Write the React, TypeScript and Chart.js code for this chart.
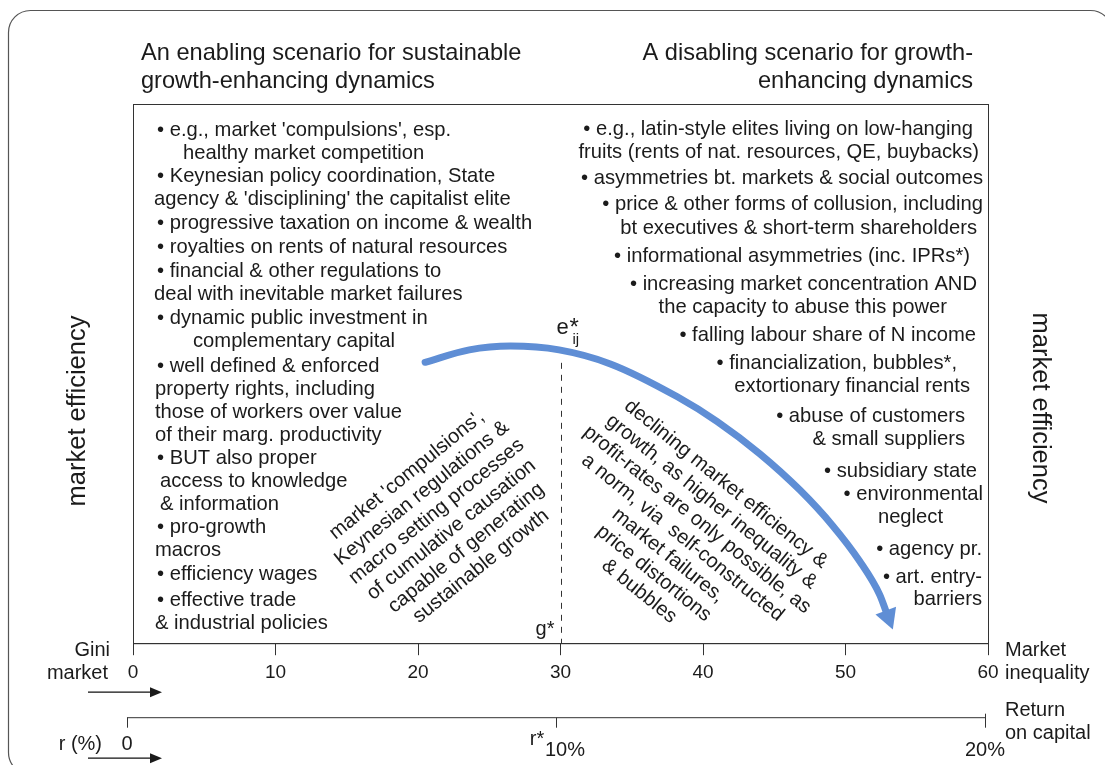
import React, { useEffect, useRef } from "react";
import { Chart, registerables } from "chart.js";

Chart.register(...registerables);

const FONT = '"Liberation Sans", Arial, Helvetica, sans-serif';
const INK = "#1b1b1b";
const CURVE = "#5f8ed5";

// ---- data ----
const giniTicks = [0, 10, 20, 30, 40, 50, 60];
const returnTicks = [0, 10, 20];
const returnTickLabels = ["0", "10%", "20%"];

const curveGini = [20.5, 23.6, 26.5, 29.9, 33.5, 38.2, 41.0, 44.0, 46.8, 49.1, 51.0, 52.4, 52.9];
const curveEfficiency = [52.1, 54.4, 55.1, 54.4, 51.8, 45.7, 41.1, 35.1, 28.4, 21.8, 15.2, 9.0, 5.5];

const gStar = 30;
const rStar = 10;
const eStarEfficiency = 52;

const titleLeft = ["An enabling scenario for sustainable", "growth-enhancing dynamics"];
const titleRight = ["A disabling scenario for growth-", "enhancing dynamics"];

const leftItems = [
  "\u2022 e.g., market 'compulsions', esp.",
  "healthy market competition",
  "\u2022 Keynesian policy coordination, State",
  "agency & 'disciplining' the capitalist elite",
  "\u2022 progressive taxation on income & wealth",
  "\u2022 royalties on rents of natural resources",
  "\u2022 financial & other regulations to",
  "deal with inevitable market failures",
  "\u2022 dynamic public investment in",
  "complementary capital",
  "\u2022 well defined & enforced",
  "property rights, including",
  "those of workers over value",
  "of their marg. productivity",
  "\u2022 BUT also proper",
  "access to knowledge",
  "& information",
  "\u2022 pro-growth",
  "macros",
  "\u2022 efficiency wages",
  "\u2022 effective trade",
  "& industrial policies",
];

const rightItems = [
  "\u2022 e.g., latin-style elites living on low-hanging",
  "fruits (rents of nat. resources, QE, buybacks)",
  "\u2022 asymmetries bt. markets & social outcomes",
  "\u2022 price & other forms of collusion, including",
  "bt executives & short-term shareholders",
  "\u2022 informational asymmetries (inc. IPRs*)",
  "\u2022 increasing market concentration AND",
  "the capacity to abuse this power",
  "\u2022 falling labour share of N income",
  "\u2022 financialization, bubbles*,",
  "extortionary financial rents",
  "\u2022 abuse of customers",
  "& small suppliers",
  "\u2022 subsidiary state",
  "\u2022 environmental",
  "neglect",
  "\u2022 agency pr.",
  "\u2022 art. entry-",
  "barriers",
];

const leftRotated = [
  "market 'compulsions',",
  "Keynesian regulations &",
  "macro setting processes",
  "of cumulative causation",
  "capable of generating",
  "sustainable growth",
];

const rightRotated = [
  "declining market efficiency &",
  "growth, as higher inequality &",
  "profit-rates are only possible, as",
  "a norm, via  self-constructed",
  "market failures,",
  "price distortions",
  "& bubbles",
];

// ---- layout (offsets relative to the chart area) ----
const leftItemLayout: [number, number][] = [
  [24, 32], [50, 55], [24, 78], [21, 101], [24, 125], [24, 149], [24, 173], [21, 196],
  [24, 220], [60, 243], [24, 268], [22, 291], [22, 314], [22, 337], [24, 360], [27, 383],
  [27, 406], [24, 429], [22, 452], [24, 476], [24, 502], [22, 525],
];
const rightItemLayout: [number, number][] = [
  [-15, 31], [-9, 54], [-5, 80], [-5, 106], [-11, 130], [-18, 158], [-11, 186], [-41, 209],
  [-12, 237], [-31, 265], [-18, 288], [-23, 318], [-23, 341], [-11, 373], [-5, 396],
  [-45, 419], [-6, 451], [-6, 479], [-6, 501],
];

const annotationPlugin = {
  id: "annotations",
  beforeDatasetsDraw(chart: any) {
    const { ctx, chartArea: ca, scales } = chart;
    const x = scales.x;
    const y = scales.y;
    const r = scales.ret;
    ctx.save();

    // outer rounded frame
    ctx.strokeStyle = "#555";
    ctx.lineWidth = 1.2;
    ctx.beginPath();
    ctx.roundRect(8.5, 10.5, 1104, 764, 22);
    ctx.stroke();

    // plot box
    ctx.strokeStyle = "#333";
    ctx.lineWidth = 1;
    ctx.strokeRect(ca.left + 0.5, ca.top + 0.5, ca.right - ca.left, ca.bottom - ca.top);

    ctx.fillStyle = INK;
    // titles
    ctx.font = `23.6px ${FONT}`;
    ctx.textBaseline = "alphabetic";
    ctx.textAlign = "left";
    titleLeft.forEach((t, i) => ctx.fillText(t, ca.left + 8, ca.top - 44 + i * 28));
    ctx.textAlign = "right";
    titleRight.forEach((t, i) => ctx.fillText(t, ca.right - 15, ca.top - 44 + i * 28));

    // bullet lists
    ctx.font = `20.2px ${FONT}`;
    ctx.textAlign = "left";
    leftItems.forEach((t, i) => {
      const [dx, dy] = leftItemLayout[i];
      ctx.fillText(t, ca.left + dx, ca.top + dy);
    });
    ctx.textAlign = "right";
    rightItems.forEach((t, i) => {
      const [dx, dy] = rightItemLayout[i];
      ctx.fillText(t, ca.right + dx, ca.top + dy);
    });

    // rotated blocks
    const ang = (39 * Math.PI) / 180;
    ctx.font = `20.2px ${FONT}`;
    ctx.textAlign = "center";
    ctx.textBaseline = "middle";
    ctx.save();
    ctx.translate(ca.left + 274, ca.top + 371);
    ctx.rotate(-ang);
    leftRotated.forEach((t, i) => ctx.fillText(t, 0, i * 23.5));
    ctx.restore();
    ctx.save();
    ctx.translate(ca.left + 593, ca.top + 380);
    ctx.rotate(ang);
    rightRotated.forEach((t, i) => ctx.fillText(t, 0, i * 23));
    ctx.restore();

    // vertical axis titles
    ctx.textBaseline = "alphabetic";
    ctx.font = `25.5px ${FONT}`;
    ctx.save();
    ctx.translate(85, 411);
    ctx.rotate(-Math.PI / 2);
    ctx.fillText("market efficiency", 0, 0);
    ctx.restore();
    ctx.save();
    ctx.translate(1033, 408);
    ctx.rotate(Math.PI / 2);
    ctx.fillText("market efficiency", 0, 0);
    ctx.restore();

    // g* dashed line
    const gx = Math.round(x.getPixelForValue(gStar)) + 0.5;
    ctx.strokeStyle = "#333";
    ctx.lineWidth = 1;
    ctx.setLineDash([6, 6]);
    ctx.beginPath();
    ctx.moveTo(gx, y.getPixelForValue(eStarEfficiency));
    ctx.lineTo(gx, ca.bottom);
    ctx.stroke();
    ctx.setLineDash([]);

    // e*_ij label
    const ey = y.getPixelForValue(eStarEfficiency);
    ctx.textAlign = "left";
    ctx.font = `22px ${FONT}`;
    ctx.fillText("e", gx - 5, ey - 29);
    ctx.font = `24px ${FONT}`;
    ctx.fillText("*", gx + 8, ey - 28);
    ctx.font = `15px ${FONT}`;
    ctx.fillText("ij", gx + 11, ey - 19);

    // g* label
    ctx.font = `20px ${FONT}`;
    ctx.textAlign = "right";
    ctx.fillText("g*", gx - 7, ca.bottom - 8);

    // Gini axis side labels
    ctx.fillText("Gini", 110, ca.bottom + 13);
    ctx.fillText("market", 108, ca.bottom + 36);
    ctx.textAlign = "left";
    ctx.fillText("Market", ca.right + 17, ca.bottom + 13);
    ctx.fillText("inequality", ca.right + 17, ca.bottom + 36);

    // small arrows
    const drawArrow = (yy: number) => {
      ctx.strokeStyle = "#111";
      ctx.lineWidth = 1.3;
      ctx.beginPath();
      ctx.moveTo(88, yy);
      ctx.lineTo(152, yy);
      ctx.stroke();
      ctx.beginPath();
      ctx.moveTo(150, yy - 5);
      ctx.lineTo(162, yy);
      ctx.lineTo(150, yy + 5);
      ctx.closePath();
      ctx.fill();
    };
    drawArrow(ca.bottom + 49);
    drawArrow(ca.bottom + 115);

    // return on capital axis
    const ry = ca.bottom + 74.5;
    ctx.strokeStyle = "#333";
    ctx.lineWidth = 1;
    ctx.beginPath();
    ctx.moveTo(r.getPixelForValue(returnTicks[0]), ry);
    ctx.lineTo(r.getPixelForValue(returnTicks[returnTicks.length - 1]), ry);
    ctx.stroke();
    returnTicks.forEach((v, i) => {
      const px = Math.round(r.getPixelForValue(v)) + 0.5;
      ctx.beginPath();
      ctx.moveTo(px, i === returnTicks.length - 1 ? ry - 4 : ry);
      ctx.lineTo(px, ry + 10);
      ctx.stroke();
    });
    ctx.font = `20px ${FONT}`;
    ctx.textAlign = "center";
    const p0 = r.getPixelForValue(returnTicks[0]);
    const p1 = r.getPixelForValue(returnTicks[1]);
    const p2 = r.getPixelForValue(returnTicks[2]);
    ctx.fillText(returnTickLabels[0], p0, ry + 32);
    ctx.fillText(returnTickLabels[1], p1 + 9, ry + 38);
    ctx.fillText(returnTickLabels[2], p2, ry + 38);
    const rs = r.getPixelForValue(rStar);
    ctx.fillText("r*", rs - 19, ry + 27);
    ctx.textAlign = "right";
    ctx.fillText("r (%)", 102, ry + 32);
    ctx.textAlign = "left";
    ctx.fillText("Return", ca.right + 17, ry - 2);
    ctx.fillText("on capital", ca.right + 17, ry + 21);

    ctx.restore();
  },
  afterDatasetsDraw(chart: any) {
    const { ctx } = chart;
    const meta = chart.getDatasetMeta(0);
    const pts = meta.data;
    if (!pts || pts.length < 2) return;
    const last = pts[pts.length - 1];
    const prev = pts[pts.length - 2];
    let fx = last.cp1x !== undefined ? last.cp1x : prev.x;
    let fy = last.cp1y !== undefined ? last.cp1y : prev.y;
    if (Math.hypot(last.x - fx, last.y - fy) < 1) {
      fx = prev.x;
      fy = prev.y;
    }
    let dx = last.x - fx;
    let dy = last.y - fy;
    const len = Math.hypot(dx, dy) || 1;
    dx /= len;
    dy /= len;
    const px = -dy;
    const py = dx;
    const bx = last.x - dx * 3;
    const by = last.y - dy * 3;
    ctx.save();
    ctx.fillStyle = CURVE;
    ctx.beginPath();
    ctx.moveTo(bx + px * 11, by + py * 11);
    ctx.lineTo(last.x + dx * 17, last.y + dy * 17);
    ctx.lineTo(bx - px * 11, by - py * 11);
    ctx.closePath();
    ctx.fill();
    ctx.restore();
  },
};

export default function App() {
  const ref = useRef<HTMLCanvasElement | null>(null);
  useEffect(() => {
    document.body.style.margin = "0";
    const canvas = ref.current;
    if (!canvas) return;
    const chart = new Chart(canvas, {
      type: "scatter",
      data: {
        datasets: [
          {
            data: curveGini.map((g, i) => ({ x: g, y: curveEfficiency[i] })),
            showLine: true,
            borderColor: CURVE,
            borderWidth: 7,
            borderCapStyle: "round",
            borderJoinStyle: "round",
            cubicInterpolationMode: "monotone",
            pointRadius: 0,
            fill: false,
          } as any,
        ],
      },
      options: {
        animation: false,
        responsive: false,
        maintainAspectRatio: false,
        devicePixelRatio: 1,
        layout: { padding: { left: 133, right: 117, top: 104, bottom: 75 } },
        plugins: { legend: { display: false }, tooltip: { enabled: false } },
        scales: {
          x: {
            type: "linear",
            position: "bottom",
            min: giniTicks[0],
            max: giniTicks[giniTicks.length - 1],
            afterBuildTicks: (s: any) => {
              s.ticks = giniTicks.map((v) => ({ value: v }));
            },
            ticks: {
              color: INK,
              font: { family: FONT, size: 19 },
              padding: 6,
              maxRotation: 0,
              autoSkip: false,
            },
            grid: { drawOnChartArea: false, drawTicks: true, tickLength: 12, color: "#333" },
            border: { display: true, color: "#333", width: 1 },
          },
          y: { type: "linear", display: false, min: 0, max: 100 },
          ret: { type: "linear", axis: "x", position: "bottom", display: false, min: 0.14, max: 20.07 },
        },
      } as any,
      plugins: [annotationPlugin],
    });
    return () => chart.destroy();
  }, []);
  return (
    <canvas
      ref={ref}
      width={1105}
      height={765}
      style={{ display: "block", width: 1105, height: 765, background: "#fff" }}
    />
  );
}
